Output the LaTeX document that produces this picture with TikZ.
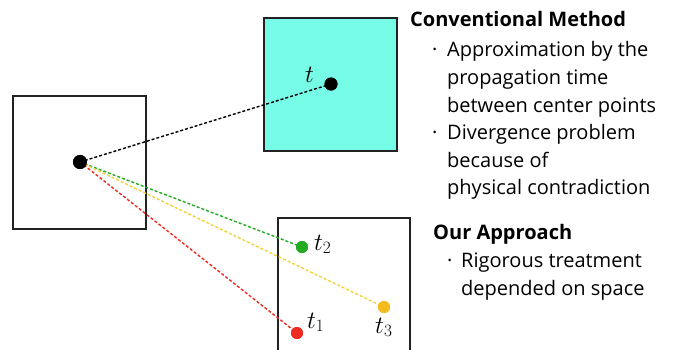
\documentclass[tikz,border=0pt]{standalone}
\usepackage{fontspec}
\setmainfont{Open Sans}
\definecolor{cyanfill}{HTML}{77FCE8}
\definecolor{dgreen}{HTML}{22AA22}
\definecolor{dyellow}{HTML}{F5BA1E}
\definecolor{lyellow}{HTML}{F2D23C}
\definecolor{dred}{HTML}{EE2B22}
\definecolor{boxline}{HTML}{222222}
\newcommand{\bul}[1]{\makebox[#1][l]{\hspace{3pt}·}}
\tikzset{
  cell/.style={draw=boxline, line width=1.4pt},
  pt/.style={circle, inner sep=0pt, minimum size=#1},
  conn/.style={dashed, dash pattern=on 3pt off 2pt, line width=1.4pt},
  body/.style={anchor=base west, inner sep=0pt, font=\fontsize{20}{24}\selectfont},
  head/.style={anchor=base west, inner sep=0pt, font=\fontsize{20}{24}\selectfont\bfseries},
  lab/.style={anchor=base west, inner sep=0pt, font=\fontsize{26}{30}\selectfont}
}
\begin{document}
\begin{tikzpicture}[x=1pt,y=-1pt]
\useasboundingbox (0,0) rectangle (675,349);
% boxes
\draw[cell] (13,96) rectangle (146,229);
\draw[cell, fill=cyanfill] (264,18) rectangle (397,151);
\draw[cell] (278,218) rectangle (410,370);
% dots
\node[pt=14pt, fill=black] (src) at (80,162) {};
\node[pt=13pt, fill=black] (tc) at (331,84) {};
\node[pt=12pt, fill=dgreen] (t2) at (302,247) {};
\node[pt=12pt, fill=dyellow] (t3) at (384,307) {};
\node[pt=12pt, fill=dred] (t1) at (297,333) {};
% connectors
\draw[conn, black] (src.center) -- (tc.center);
\draw[conn, dgreen] (src.center) -- (t2.center);
\draw[conn, lyellow] (src.center) -- (t3.center);
\draw[conn, dred] (src.center) -- (t1.center);
% redraw dots on top
\fill[black] (src) circle (7pt);
\fill[black] (tc) circle (6.5pt);
\fill[dgreen] (t2) circle (6pt);
\fill[dyellow] (t3) circle (6pt);
\fill[dred] (t1) circle (6pt);
% labels
\node[lab] (lt) at (305,82) {$t$};
\node[lab] (lt2) at (314,250) {$t_2$};
\node[lab] (lt1) at (307,328) {$t_1$};
\node[lab] (lt3) at (375,333) {$t_3$};
% text
\node[head] (h1) at (410,26) {Conventional Method};
\node[body] (a1) at (429,56) {\bul{18pt}Approximation by the};
\node[body] (a2) at (447,84) {propagation time};
\node[body] (a3) at (447,112) {between center points};
\node[body] (a4) at (429,139) {\bul{18pt}Divergence problem};
\node[body] (a5) at (447,167) {because of};
\node[body] (a6) at (447,194) {physical contradiction};
\node[head] (h2) at (433,239) {Our Approach};
\node[body] (b1) at (444,267) {\bul{17pt}Rigorous treatment};
\node[body] (b2) at (461,295) {depended on space};
\end{tikzpicture}
\end{document}
